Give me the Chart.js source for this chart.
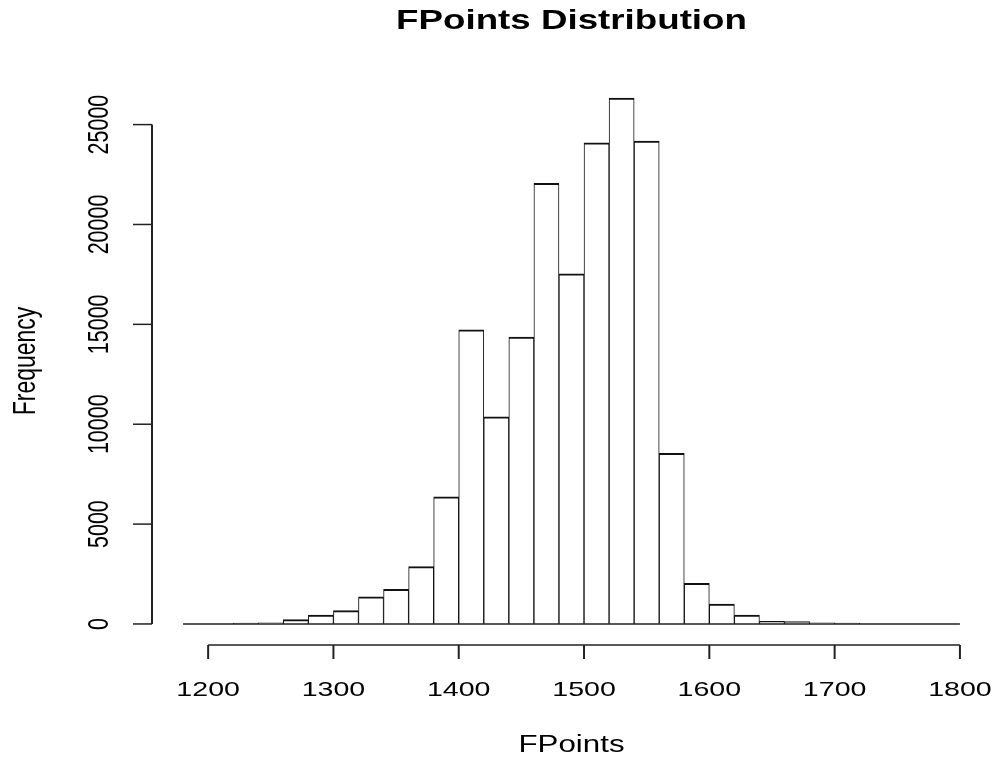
<!DOCTYPE html>
<html>
<head>
<meta charset="utf-8">
<script src="https://cdn.jsdelivr.net/npm/chart.js@4.4.1/dist/chart.umd.min.js"></script>
<style>
  html, body { margin: 0; padding: 0; background: #fff; }
  #wrap { width: 998px; height: 760px; }
</style>
</head>
<body>
<div id="wrap"><canvas id="hist" width="998" height="760"></canvas></div>
<script>
// histogram bins (left edge) and counts
const binStarts = [1180, 1200, 1220, 1240, 1260, 1280, 1300, 1320, 1340, 1360,
                   1380, 1400, 1420, 1440, 1460, 1480, 1500, 1520, 1540, 1560,
                   1580, 1600, 1620, 1640, 1660, 1680, 1700, 1720, 1740, 1760, 1780];
const binWidth = 20;
const counts = [0, 0, 40, 60, 220, 450, 670, 1360, 1730, 2870,
                6360, 14720, 10370, 14360, 22060, 17530, 24090, 26330, 24180, 8540,
                2040, 990, 450, 135, 120, 60, 40, 0, 0, 0, 0];
const xTicks = [1200, 1300, 1400, 1500, 1600, 1700, 1800];
const yTicks = [0, 5000, 10000, 15000, 20000, 25000];

const FONT = '"Liberation Sans", Arial, sans-serif';
const SX = 1.36; // the picture is stretched sideways

// R-style limits: range plus 4% on each side
const xLo = binStarts[0], xHi = binStarts[binStarts.length - 1] + binWidth;
const yMaxData = Math.max(...counts);

function stretchedText(ctx, text, x, y, font, rotate) {
    ctx.save();
    ctx.translate(x, y);
    ctx.scale(SX, 1);
    if (rotate) ctx.rotate(-Math.PI / 2);
    ctx.font = font;
    ctx.fillStyle = '#000';
    ctx.textAlign = 'center';
    ctx.textBaseline = 'alphabetic';
    ctx.fillText(text, 0, 0);
    ctx.restore();
}

const rAxes = {
    id: 'rAxes',
    afterDatasetsDraw(chart) {
        const ctx = chart.ctx;
        const xs = chart.scales.x, ys = chart.scales.y;
        const area = chart.chartArea;
        ctx.save();
        ctx.strokeStyle = '#222';

        // flat line for the empty bins
        ctx.lineWidth = 1.5;
        ctx.beginPath();
        ctx.moveTo(xs.getPixelForValue(xLo), ys.getPixelForValue(0));
        ctx.lineTo(xs.getPixelForValue(xHi), ys.getPixelForValue(0));
        ctx.stroke();

        // x axis
        const yAx = area.bottom;
        ctx.beginPath();
        ctx.moveTo(xs.getPixelForValue(xTicks[0]), yAx);
        ctx.lineTo(xs.getPixelForValue(xTicks[xTicks.length - 1]), yAx);
        ctx.stroke();
        ctx.lineWidth = 2;
        xTicks.forEach(v => {
            const px = xs.getPixelForValue(v);
            ctx.beginPath();
            ctx.moveTo(px, yAx);
            ctx.lineTo(px, yAx + 14);
            ctx.stroke();
            stretchedText(ctx, String(v), px, yAx + 51, '21px ' + FONT, false);
        });

        // y axis
        const xAx = area.left;
        ctx.lineWidth = 2;
        ctx.beginPath();
        ctx.moveTo(xAx, ys.getPixelForValue(yTicks[0]));
        ctx.lineTo(xAx, ys.getPixelForValue(yTicks[yTicks.length - 1]));
        ctx.stroke();
        ctx.lineWidth = 1.5;
        yTicks.forEach(v => {
            const py = ys.getPixelForValue(v);
            ctx.beginPath();
            ctx.moveTo(xAx, py);
            ctx.lineTo(xAx - 19, py);
            ctx.stroke();
            stretchedText(ctx, String(v), xAx - 44, py, '21.5px ' + FONT, true);
        });
        ctx.restore();

        // titles
        const cx = (area.left + area.right) / 2;
        const cy = (area.top + area.bottom) / 2;
        stretchedText(ctx, 'FPoints Distribution', cx, 29, 'bold 27px ' + FONT, false);
        stretchedText(ctx, 'FPoints', cx, 752, '23px ' + FONT, false);
        stretchedText(ctx, 'Frequency', 35, cy, '23px ' + FONT, true);
    }
};

function initHistogram() {
    const ctx = document.getElementById('hist').getContext('2d');
    new Chart(ctx, {
        type: 'bar',
        data: {
            datasets: [{
                data: binStarts.map((b, i) => ({ x: b + binWidth / 2, y: counts[i] })),
                backgroundColor: '#ffffff',
                borderColor: '#111111',
                borderWidth: { top: 2, left: 1, right: 1, bottom: 0 },
                borderSkipped: false,
                barPercentage: 1.0,
                categoryPercentage: 1.0
            }]
        },
        options: {
            responsive: false,
            animation: false,
            devicePixelRatio: 1,
            layout: { padding: { left: 152, right: 7, top: 77, bottom: 115 } },
            plugins: {
                legend: { display: false },
                tooltip: { enabled: false }
            },
            scales: {
                x: {
                    type: 'linear',
                    display: false,
                    offset: false,
                    min: xLo - (xHi - xLo) * 0.04,
                    max: xHi + (xHi - xLo) * 0.04
                },
                y: {
                    display: false,
                    min: -yMaxData * 0.04,
                    max: yMaxData * 1.04
                }
            }
        },
        plugins: [rAxes]
    });
}

document.addEventListener('DOMContentLoaded', initHistogram);
</script>
</body>
</html>
